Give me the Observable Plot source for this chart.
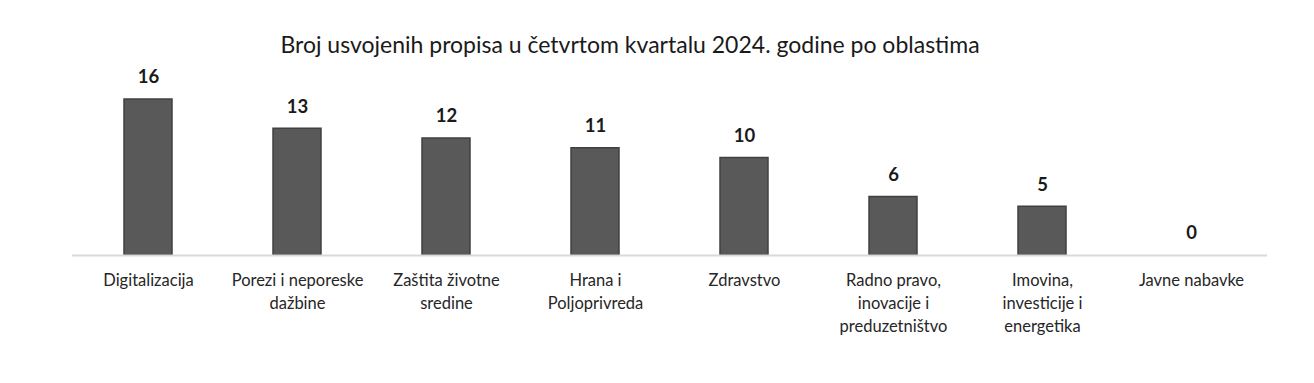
<!DOCTYPE html>
<html>
<head>
<meta charset="utf-8">
<script src="https://cdn.jsdelivr.net/npm/d3@7"></script>
<script src="https://cdn.jsdelivr.net/npm/@observablehq/plot@0.6"></script>
<style>
  body { margin: 0; background: #fff; }
  #chart svg { display: block; }
</style>
</head>
<body>
<div id="chart"></div>
<script>
const title = "Broj usvojenih propisa u četvrtom kvartalu 2024. godine po oblastima";
const categories = [
  "Digitalizacija",
  "Porezi i neporeske\ndažbine",
  "Zaštita životne\nsredine",
  "Hrana i\nPoljoprivreda",
  "Zdravstvo",
  "Radno pravo,\ninovacije i\npreduzetništvo",
  "Imovina,\ninvesticije i\nenergetika",
  "Javne nabavke"
];
const values = [16, 13, 12, 11, 10, 6, 5, 0];

const data = categories.map((c, i) => ({ category: c, value: values[i] }));

const chart = Plot.plot({
  width: 1314,
  height: 383,
  marginTop: 99,
  marginBottom: 128,
  marginLeft: 72,
  marginRight: 47,
  style: { fontFamily: "Lato, 'Open Sans', sans-serif", background: "#fff" },
  x: { domain: categories, paddingInner: 0.68, paddingOuter: 0.34, label: null },
  y: { domain: [0, 16], axis: null },
  marks: [
    Plot.barY(data, {
      x: "category",
      y: "value",
      fill: "#595959",
      stroke: "#404040",
      strokeWidth: 1.5
    }),
    Plot.ruleY([0], { stroke: "#d9d9d9", strokeWidth: 2 }),
    Plot.text(data, {
      x: "category",
      y: "value",
      text: d => String(d.value),
      dy: -22,
      fontSize: 18.5,
      fontWeight: "bold",
      fill: "#1a1a1a"
    }),
    Plot.axisX({
      tickSize: 0,
      tickPadding: 14,
      fontSize: 16.5,
      lineHeight: 1.4,
      fill: "#262626",
      label: null
    }),
    Plot.text([title], {
      frameAnchor: "top",
      dy: -63,
      dx: -40,
      fontSize: 23,
      fill: "#1a1a1a"
    })
  ]
});
document.getElementById("chart").appendChild(chart);
</script>
</body>
</html>
